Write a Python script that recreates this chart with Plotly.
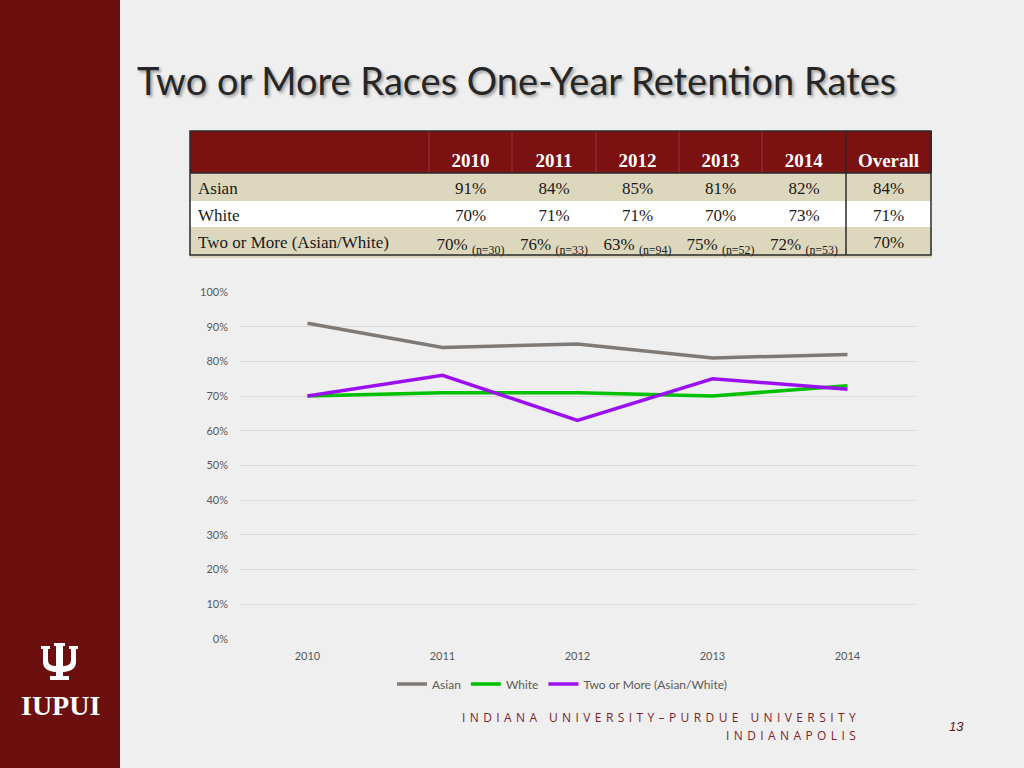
import plotly.graph_objects as go

# ---------------- data ----------------
years = ["2010", "2011", "2012", "2013", "2014"]
asian = [91, 84, 85, 81, 82]
white = [70, 71, 71, 70, 73]
two_more = [70, 76, 63, 75, 72]
two_more_n = [30, 33, 94, 52, 53]
overall = [84, 71, 70]
row_labels = ["Asian", "White", "Two or More (Asian/White)"]
series_names = ["Asian", "White", "Two or More (Asian/White)"]
y_ticks = [0, 10, 20, 30, 40, 50, 60, 70, 80, 90, 100]

W, H = 1024, 768


def px(x):
    return x / W


def py(y):
    return 1 - y / H


BG = "#efefef"
MAROON = "#6b0f0f"
HEAD = "#7b1111"
BEIGE = "#ddd8bd"
TXT = "#1a1a1a"
COLW = [239, 83, 84, 83, 83, 84, 85]
TX = [px(190), px(931)]
NB = "\u00a0"

fig = go.Figure()

# ---------------- table: column titles ----------------
head_vals = [[NB]] + [["<b>%s</b>" % y] for y in years] + [["<b>Overall</b>"]]
ncol = len(head_vals)
fig.add_trace(go.Table(
    domain=dict(x=TX, y=[py(174), py(131)]),
    columnwidth=COLW,
    header=dict(values=[NB] * ncol, fill_color=HEAD, line=dict(color=HEAD, width=1),
                font=dict(family="Liberation Serif", size=5, color="white"), height=11),
    cells=dict(values=head_vals, fill_color=HEAD, line=dict(color=HEAD, width=1),
               font=dict(family="Liberation Serif", size=19, color="white"),
               align="center", height=31),
))

# ---------------- table: body rows ----------------
body = [row_labels]
for i in range(len(years)):
    body.append([
        "%d%%" % asian[i],
        "%d%%" % white[i],
        "%d%%\u00a0<sub>(n=%d)</sub>" % (two_more[i], two_more_n[i]),
    ])
body.append(["%d%%" % v for v in overall])

first_row = [c[0] for c in body]
rest_rows = [c[1:] for c in body]
rest_fill = ["white", BEIGE]
fig.add_trace(go.Table(
    domain=dict(x=TX, y=[py(258), py(173)]),
    columnwidth=COLW,
    header=dict(values=first_row, fill_color=BEIGE, line=dict(color=BEIGE, width=1),
                font=dict(family="Liberation Serif", size=17, color=TXT),
                align=["left"] + ["center"] * (ncol - 1), height=27),
    cells=dict(values=rest_rows, fill_color=[rest_fill] * ncol,
               line=dict(color=[rest_fill] * ncol, width=1),
               font=dict(family="Liberation Serif", size=17, color=TXT),
               align=["left"] + ["center"] * (ncol - 1), height=27),
))

# ---------------- lines ----------------
colors = ["#7f7a76", "#00c000", "#9b10f0"]
for name, vals, c in zip(series_names, [asian, white, two_more], colors):
    fig.add_trace(go.Scatter(
        x=years, y=vals, name=name, mode="lines",
        line=dict(color=c, width=3.5),
        xaxis="x", yaxis="y",
    ))

fig.update_layout(
    width=W, height=H,
    margin=dict(l=0, r=0, t=0, b=0),
    paper_bgcolor=BG, plot_bgcolor=BG,
    font=dict(family="Lato", size=11, color="#595959"),
    xaxis=dict(
        domain=[px(240), px(915)],
        type="category", range=[-0.5, 4.5],
        showgrid=False, zeroline=False, showline=False,
        ticks="", ticklabelstandoff=9,
        tickfont=dict(size=11, color="#595959"),
        fixedrange=True, automargin=False,
    ),
    yaxis=dict(
        domain=[py(639), py(292)],
        range=[0, 100], tickvals=y_ticks,
        ticktext=["%d%%" % v for v in y_ticks],
        showgrid=True, gridcolor="#d9d9d9", gridwidth=1,
        zeroline=False, showline=False, ticks="",
        ticklabelstandoff=11,
        tickfont=dict(size=11, color="#595959"),
        fixedrange=True, automargin=False,
    ),
    legend=dict(
        orientation="h", x=px(562), xanchor="center", y=py(684), yanchor="middle",
        font=dict(size=12, color="#595959"), bgcolor="rgba(0,0,0,0)",
        itemwidth=30,
    ),
    showlegend=True,
)

# ---------------- decorations ----------------
shapes = [
    dict(type="rect", xref="paper", yref="paper", x0=0, x1=px(120), y0=0, y1=1,
         fillcolor=MAROON, line=dict(width=0), layer="below"),
    dict(type="rect", xref="paper", yref="paper", x0=px(190), x1=px(931), y0=py(255), y1=py(131),
         line=dict(color="#2a2a2a", width=1.5), fillcolor="rgba(0,0,0,0)", layer="above"),
    dict(type="line", xref="paper", yref="paper", x0=px(846), x1=px(846), y0=py(255), y1=py(131),
         line=dict(color="#2a2a2a", width=1.5), layer="above"),
    dict(type="line", xref="paper", yref="paper", x0=px(190), x1=px(931), y0=py(173), y1=py(173),
         line=dict(color="#2a2a2a", width=1.5), layer="above"),
]
for xs in [429, 512, 596, 679, 762]:
    shapes.append(dict(type="line", xref="paper", yref="paper", x0=px(xs), x1=px(xs),
                       y0=py(172), y1=py(132), line=dict(color="#93393a", width=1),
                       layer="above"))

pts = [
    ("M", 41, 646), ("L", 50, 646), ("L", 50, 649), ("L", 48, 649), ("L", 48, 660),
    ("Q", 48, 666, 56, 666), ("L", 56, 646), ("L", 54, 646), ("L", 54, 643), ("L", 65, 643),
    ("L", 65, 646), ("L", 63, 646), ("L", 63, 666), ("Q", 71, 666, 71, 660), ("L", 71, 649),
    ("L", 69, 649), ("L", 69, 646), ("L", 78, 646), ("L", 78, 649), ("L", 76, 649),
    ("L", 76, 662), ("Q", 76, 671, 63, 672), ("L", 63, 676), ("L", 69, 676), ("L", 69, 680),
    ("L", 50, 680), ("L", 50, 676), ("L", 56, 676), ("L", 56, 672), ("Q", 43, 671, 43, 662),
    ("L", 43, 649), ("L", 41, 649),
]
path = ""
for p in pts:
    cmd = p[0]
    nums = p[1:]
    coords = []
    for i in range(0, len(nums), 2):
        coords.append("%.5f,%.5f" % (px(nums[i]), py(nums[i + 1])))
    path += cmd + " ".join(coords) + " "
path += "Z"
shapes.append(dict(type="path", xref="paper", yref="paper", path=path,
                   fillcolor="white", line=dict(width=0), layer="above"))

fig.update_layout(shapes=shapes)

ann_common = dict(xref="paper", yref="paper", showarrow=False)
annotations = [
    dict(text="Two or More Races One-Year Retention Rates", x=px(135), y=py(80),
         xanchor="left", yanchor="middle",
         font=dict(family="Lato", size=38, color="#262626",
                   shadow="2px 2px 3px rgba(0,0,0,0.35)"), **ann_common),
    dict(text="<b>IUPUI</b>", x=px(60), y=py(705), xanchor="center", yanchor="middle",
         font=dict(family="Liberation Serif", size=28, color="white"), **ann_common),
    dict(text='<span style="letter-spacing:4.4px">INDIANA UNIVERSITY\u2013PURDUE UNIVERSITY</span>',
         x=px(862), y=py(717), xanchor="right", yanchor="middle",
         font=dict(family="Open Sans", size=12, color="#7a1f2b"), **ann_common),
    dict(text='<span style="letter-spacing:4.4px">INDIANAPOLIS</span>',
         x=px(862), y=py(735), xanchor="right", yanchor="middle",
         font=dict(family="Open Sans", size=12, color="#7a1f2b"), **ann_common),
    dict(text="<i>13</i>", x=px(956), y=py(726), xanchor="center", yanchor="middle",
         font=dict(family="Liberation Sans", size=13, color="#5a1a20"), **ann_common),
]
fig.update_layout(annotations=annotations)

post = ("document.documentElement.style.margin='0';"
        "document.body.style.margin='0';"
        "document.body.style.overflow='hidden';"
        "var d=document.getElementById('{plot_id}');"
        "d.style.position='absolute';d.style.left='0px';d.style.top='0px';")
fig.write_html("out.html", config={"displayModeBar": False}, post_script=post)
